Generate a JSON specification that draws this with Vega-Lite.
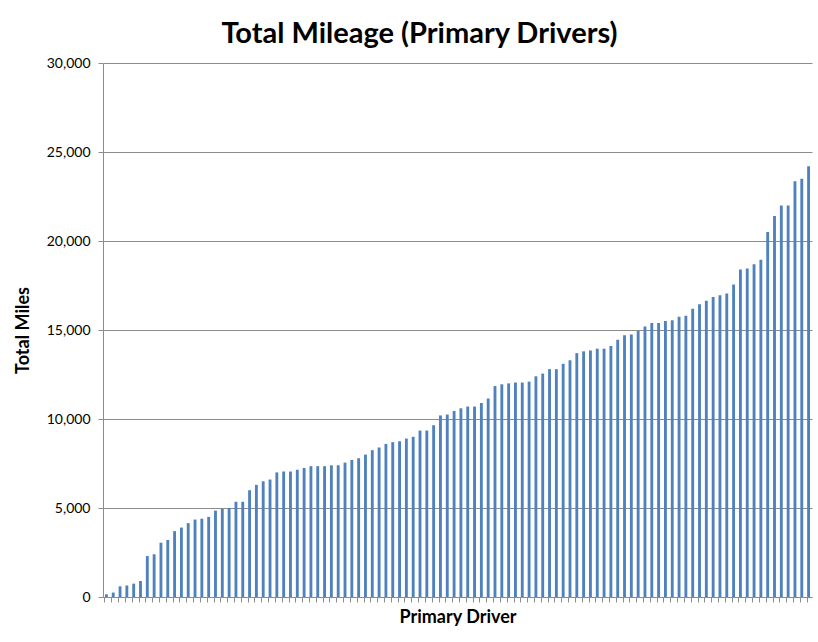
{
  "$schema": "https://vega.github.io/schema/vega-lite/v6.json",
  "width": 709,
  "height": 534,
  "autosize": {"type": "none"},
  "padding": {"left": 103, "top": 63, "right": 6, "bottom": 45},
  "background": "white",
  "title": {
    "text": "Total Mileage (Primary Drivers)",
    "font": "Lato",
    "fontSize": 29,
    "fontWeight": "bold",
    "color": "#000000",
    "anchor": "middle",
    "dx": -38,
    "offset": 7
  },
  "data": {
    "values": [
      {"driver": 1, "miles": 150}, {"driver": 2, "miles": 250}, {"driver": 3, "miles": 600}, {"driver": 4, "miles": 650},
      {"driver": 5, "miles": 750}, {"driver": 6, "miles": 900}, {"driver": 7, "miles": 2300}, {"driver": 8, "miles": 2400},
      {"driver": 9, "miles": 3050}, {"driver": 10, "miles": 3200}, {"driver": 11, "miles": 3700}, {"driver": 12, "miles": 3900},
      {"driver": 13, "miles": 4150}, {"driver": 14, "miles": 4350}, {"driver": 15, "miles": 4400}, {"driver": 16, "miles": 4500},
      {"driver": 17, "miles": 4850}, {"driver": 18, "miles": 4950}, {"driver": 19, "miles": 5000}, {"driver": 20, "miles": 5350},
      {"driver": 21, "miles": 5350}, {"driver": 22, "miles": 6000}, {"driver": 23, "miles": 6300}, {"driver": 24, "miles": 6500},
      {"driver": 25, "miles": 6600}, {"driver": 26, "miles": 7000}, {"driver": 27, "miles": 7050}, {"driver": 28, "miles": 7050},
      {"driver": 29, "miles": 7150}, {"driver": 30, "miles": 7250}, {"driver": 31, "miles": 7350}, {"driver": 32, "miles": 7350},
      {"driver": 33, "miles": 7350}, {"driver": 34, "miles": 7400}, {"driver": 35, "miles": 7400}, {"driver": 36, "miles": 7550},
      {"driver": 37, "miles": 7700}, {"driver": 38, "miles": 7800}, {"driver": 39, "miles": 8000}, {"driver": 40, "miles": 8250},
      {"driver": 41, "miles": 8400}, {"driver": 42, "miles": 8600}, {"driver": 43, "miles": 8700}, {"driver": 44, "miles": 8750},
      {"driver": 45, "miles": 8900}, {"driver": 46, "miles": 9000}, {"driver": 47, "miles": 9350}, {"driver": 48, "miles": 9350},
      {"driver": 49, "miles": 9650}, {"driver": 50, "miles": 10200}, {"driver": 51, "miles": 10250}, {"driver": 52, "miles": 10450},
      {"driver": 53, "miles": 10600}, {"driver": 54, "miles": 10700}, {"driver": 55, "miles": 10700}, {"driver": 56, "miles": 10900},
      {"driver": 57, "miles": 11150}, {"driver": 58, "miles": 11850}, {"driver": 59, "miles": 11950}, {"driver": 60, "miles": 12000},
      {"driver": 61, "miles": 12050}, {"driver": 62, "miles": 12050}, {"driver": 63, "miles": 12100}, {"driver": 64, "miles": 12400},
      {"driver": 65, "miles": 12550}, {"driver": 66, "miles": 12800}, {"driver": 67, "miles": 12800}, {"driver": 68, "miles": 13100},
      {"driver": 69, "miles": 13300}, {"driver": 70, "miles": 13700}, {"driver": 71, "miles": 13800}, {"driver": 72, "miles": 13850},
      {"driver": 73, "miles": 13950}, {"driver": 74, "miles": 13950}, {"driver": 75, "miles": 14100}, {"driver": 76, "miles": 14450},
      {"driver": 77, "miles": 14700}, {"driver": 78, "miles": 14750}, {"driver": 79, "miles": 14950}, {"driver": 80, "miles": 15200},
      {"driver": 81, "miles": 15400}, {"driver": 82, "miles": 15400}, {"driver": 83, "miles": 15500}, {"driver": 84, "miles": 15550},
      {"driver": 85, "miles": 15750}, {"driver": 86, "miles": 15800}, {"driver": 87, "miles": 16200}, {"driver": 88, "miles": 16450},
      {"driver": 89, "miles": 16650}, {"driver": 90, "miles": 16850}, {"driver": 91, "miles": 16950}, {"driver": 92, "miles": 17050},
      {"driver": 93, "miles": 17550}, {"driver": 94, "miles": 18400}, {"driver": 95, "miles": 18450}, {"driver": 96, "miles": 18700},
      {"driver": 97, "miles": 18950}, {"driver": 98, "miles": 20500}, {"driver": 99, "miles": 21400}, {"driver": 100, "miles": 22000},
      {"driver": 101, "miles": 22000}, {"driver": 102, "miles": 23350}, {"driver": 103, "miles": 23500}, {"driver": 104, "miles": 24200}
    ]
  },
  "mark": {"type": "bar", "color": "#4F81BD"},
  "encoding": {
    "x": {
      "field": "driver",
      "type": "ordinal",
      "scale": {"paddingInner": 0.58, "paddingOuter": 0.29},
      "axis": {
        "title": "Primary Driver",
        "titleFont": "Lato",
        "titleFontSize": 18,
        "titleFontWeight": "bold",
        "titleColor": "#000000",
        "titlePadding": 6,
        "labels": false,
        "ticks": true,
        "tickSize": 5,
        "tickColor": "#8c8c8c",
        "bandPosition": 0,
        "domainColor": "#8c8c8c",
        "grid": false
      }
    },
    "y": {
      "field": "miles",
      "type": "quantitative",
      "scale": {"domain": [0, 30000], "nice": false},
      "axis": {
        "title": "Total Miles",
        "titleFont": "Lato",
        "titleFontSize": 18,
        "titleFontWeight": "bold",
        "titleColor": "#000000",
        "titlePadding": 14,
        "values": [0, 5000, 10000, 15000, 20000, 25000, 30000],
        "format": ",.0f",
        "labelFont": "Lato",
        "labelFontSize": 14,
        "labelColor": "#000000",
        "labelPadding": 8,
        "tickSize": 5,
        "tickColor": "#8c8c8c",
        "domainColor": "#8c8c8c",
        "grid": true,
        "gridColor": "#8c8c8c",
        "gridOpacity": 1
      }
    }
  },
  "config": {
    "view": {"stroke": null}
  }
}
